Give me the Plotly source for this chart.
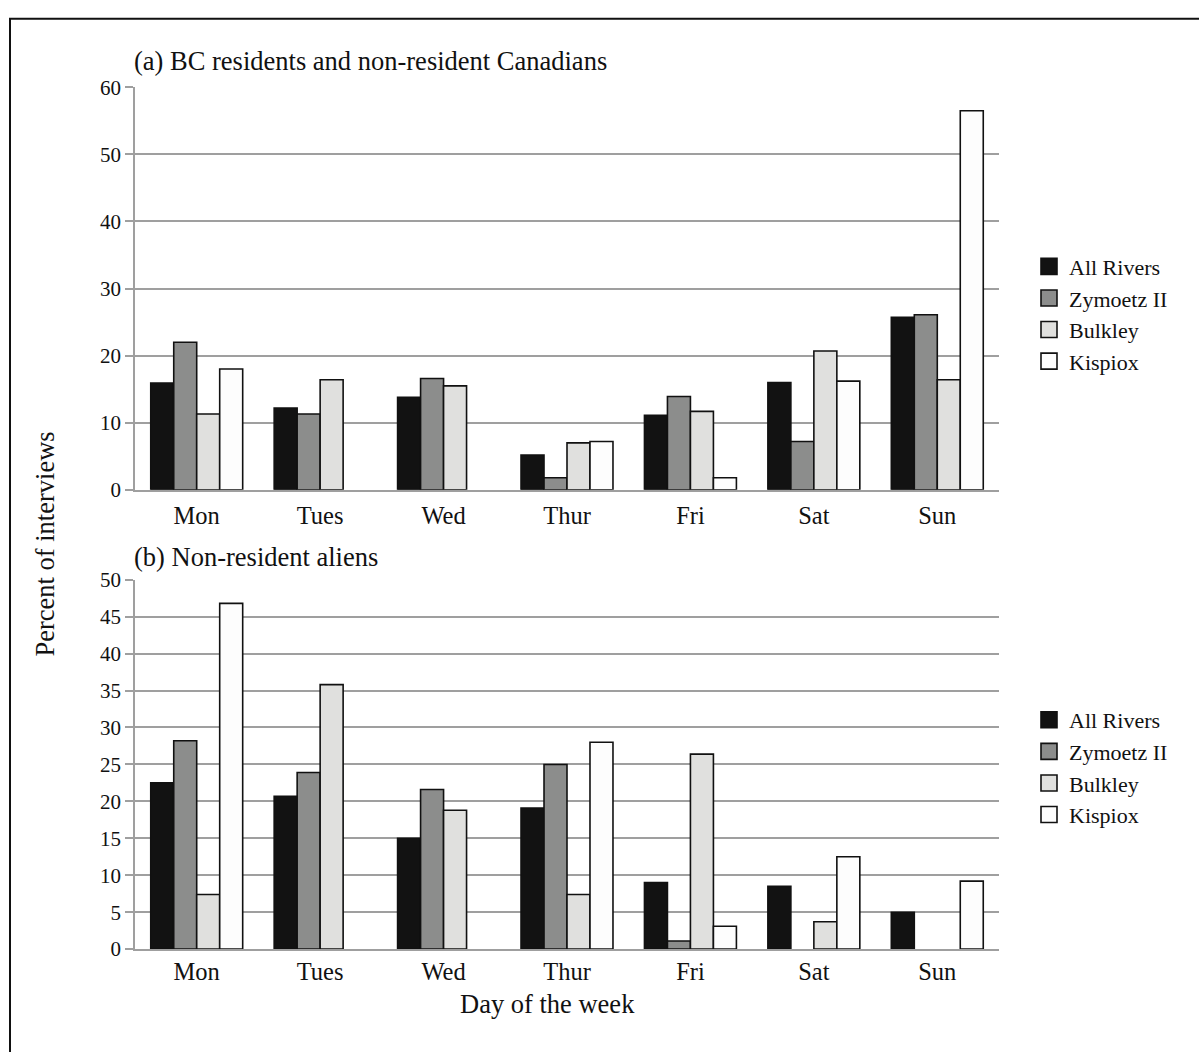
import plotly.graph_objects as go

days = ["Mon", "Tues", "Wed", "Thur", "Fri", "Sat", "Sun"]
series_names = ["All Rivers", "Zymoetz II", "Bulkley", "Kispiox"]

# (a) BC residents and non-resident Canadians (percent of interviews)
a_all_rivers = [15.9, 12.2, 13.8, 5.2, 11.1, 16.0, 25.7]
a_zymoetz = [22.0, 11.3, 16.6, 1.8, 13.9, 7.2, 26.1]
a_bulkley = [11.3, 16.4, 15.5, 7.0, 11.7, 20.7, 16.4]
a_kispiox = [18.0, None, None, 7.2, 1.8, 16.2, 56.5]

# (b) Non-resident aliens (percent of interviews)
b_all_rivers = [22.5, 20.7, 15.0, 19.1, 9.0, 8.5, 5.0]
b_zymoetz = [28.2, 23.9, 21.6, 25.0, 1.1, None, None]
b_bulkley = [7.4, 35.8, 18.8, 7.4, 26.4, 3.7, None]
b_kispiox = [46.8, None, None, 28.0, 3.1, 12.5, 9.2]

colors = ["#121212", "#8c8d8c", "#e0e0de", "#fdfdfd"]

W, H = 1199, 1052
FONT = "Liberation Serif, Times New Roman, serif"
GRID = "#9f9f9f"
EDGE = "#111111"

def px_x(v):
    return v / W

def px_y(v):
    return 1 - v / H

fig = go.Figure()

panels = [
    ("x", "y", "legend", [a_all_rivers, a_zymoetz, a_bulkley, a_kispiox]),
    ("x2", "y2", "legend2", [b_all_rivers, b_zymoetz, b_bulkley, b_kispiox]),
]

for xa, ya, leg, series in panels:
    for name, vals, col in zip(series_names, series, colors):
        fig.add_trace(go.Bar(
            x=days, y=vals, name=name, xaxis=xa, yaxis=ya,
            marker=dict(color=col, line=dict(color=EDGE, width=1.6)),
            showlegend=False,
        ))
    # legend entries with larger square swatches
    for name, col in zip(series_names, colors):
        fig.add_trace(go.Scatter(
            x=[None], y=[None], name=name, xaxis=xa, yaxis=ya, mode="markers",
            marker=dict(symbol="square", size=16, color=col,
                        line=dict(color=EDGE, width=1.6)),
            legend=leg, showlegend=True, hoverinfo="skip",
        ))

xdom = [px_x(135), px_x(999)]

common_x = dict(
    type="category", categoryorder="array", categoryarray=days,
    showline=True, linecolor=GRID, linewidth=1.6,
    ticks="", showgrid=False, tickfont=dict(family=FONT, size=24.5, color="#111"),
)
common_y = dict(
    showline=True, linecolor=GRID, linewidth=1.6, ticks="outside", ticklen=8,
    tickcolor=GRID, tickwidth=1.6, showgrid=True, gridcolor=GRID, gridwidth=1.6,
    zeroline=False, tickfont=dict(family=FONT, size=21, color="#111"),
)

legend_common = dict(
    font=dict(family=FONT, size=22, color="#111"),
    bgcolor="rgba(0,0,0,0)", tracegroupgap=0, itemclick=False,
    itemsizing="trace",
    xanchor="left", yanchor="top", x=px_x(1029),
)

TITLE_FONT = dict(family=FONT, size=26.5, color="#111")

fig.update_layout(
    width=W, height=H,
    margin=dict(l=0, r=0, t=0, b=0),
    paper_bgcolor="white", plot_bgcolor="white",
    barmode="group", bargap=0.255, bargroupgap=0,
    xaxis=dict(domain=xdom, anchor="y", ticklabelstandoff=3, **common_x),
    yaxis=dict(domain=[px_y(489), px_y(77)], anchor="x", range=[0, 60],
               dtick=10, **common_y),
    xaxis2=dict(domain=xdom, anchor="y2", ticklabelstandoff=0, **common_x),
    yaxis2=dict(domain=[px_y(959), px_y(581)], anchor="x2", range=[0, 50],
                dtick=5, **common_y),
    legend=dict(y=px_y(239), **legend_common),
    legend2=dict(y=px_y(703), **legend_common),
    font=dict(family=FONT, color="#111"),
    annotations=[
        dict(text="(a) BC residents and non-resident Canadians", x=px_x(132), y=px_y(50),
             xref="paper", yref="paper", xanchor="left", yanchor="middle",
             showarrow=False, font=TITLE_FONT),
        dict(text="(b) Non-resident aliens", x=px_x(132), y=px_y(558),
             xref="paper", yref="paper", xanchor="left", yanchor="middle",
             showarrow=False, font=TITLE_FONT),
        dict(text="Percent of interviews", x=px_x(45), y=px_y(545), textangle=-90,
             xref="paper", yref="paper", xanchor="center", yanchor="middle",
             showarrow=False, font=TITLE_FONT),
        dict(text="Day of the week", x=px_x(547), y=px_y(1015),
             xref="paper", yref="paper", xanchor="center", yanchor="middle",
             showarrow=False, font=TITLE_FONT),
    ],
    shapes=[
        dict(type="rect", xref="paper", yref="paper",
             x0=px_x(10), x1=1.05, y0=-0.05, y1=px_y(7),
             line=dict(color="#111", width=2), fillcolor="rgba(0,0,0,0)",
             layer="above"),
    ],
)

fig.write_html(
    "out.html",
    config={"displayModeBar": False},
    post_script=(
        "document.body.style.margin='0';document.body.style.padding='0';"
        "document.body.style.overflow='hidden';"
        "var d=document.getElementById('{plot_id}');"
        "d.style.position='fixed';d.style.top='0px';d.style.left='0px';"
    ),
)
